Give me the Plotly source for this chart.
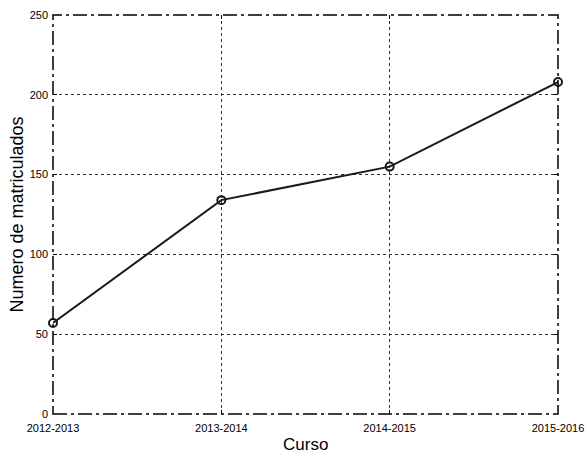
import plotly.graph_objects as go

cursos = ["2012-2013", "2013-2014", "2014-2015", "2015-2016"]
matriculados = [57, 134, 155, 208]
y_ticks = [0, 50, 100, 150, 200, 250]

fig = go.Figure()
fig.add_trace(go.Scatter(
    x=cursos, y=matriculados, mode="lines+markers", cliponaxis=False,
    line=dict(color="#1a1a1a", width=2),
    marker=dict(symbol="circle-open", size=8, color="#1a1a1a", line=dict(width=2)),
    showlegend=False,
))

font = "Liberation Sans, Arial, sans-serif"
fig.update_layout(
    width=587, height=453,
    margin=dict(l=53, r=29, t=15, b=39),
    paper_bgcolor="white", plot_bgcolor="white",
    font=dict(family=font, color="#000"),
    xaxis=dict(
        type="category", range=[0, 3], automargin=False,
        showgrid=True, gridcolor="#333", griddash="3px,3px", gridwidth=1,
        ticks="inside", ticklen=4, tickcolor="#000", mirror="ticks",
        tickfont=dict(size=11, family=font, color="#000"), ticklabelstandoff=6,
        showline=False, zeroline=False,
    ),
    yaxis=dict(
        range=[0, 250], tickvals=y_ticks, automargin=False,
        showgrid=True, gridcolor="#333", griddash="3px,3px", gridwidth=1,
        ticks="inside", ticklen=4, tickcolor="#000", mirror="ticks",
        tickfont=dict(size=11, family=font, color="#000"), ticklabelstandoff=4,
        showline=False, zeroline=False,
    ),
    shapes=[dict(type="rect", xref="paper", yref="paper", x0=0, x1=1, y0=0, y1=1,
                 line=dict(color="#000", width=1.5, dash="14px,4px,3px,4px"), layer="above")],
    annotations=[
        dict(text="Curso", xref="paper", yref="paper", x=0.5, y=0,
             yshift=-30, xanchor="center", yanchor="middle", showarrow=False,
             font=dict(size=17, family=font, color="#000")),
        dict(text="Numero de matriculados", xref="paper", yref="paper", x=0, y=0.5,
             xshift=-37, xanchor="center", yanchor="middle", textangle=-90, showarrow=False,
             font=dict(size=18, family=font, color="#000")),
    ],
)
fig.write_html("out.html")
